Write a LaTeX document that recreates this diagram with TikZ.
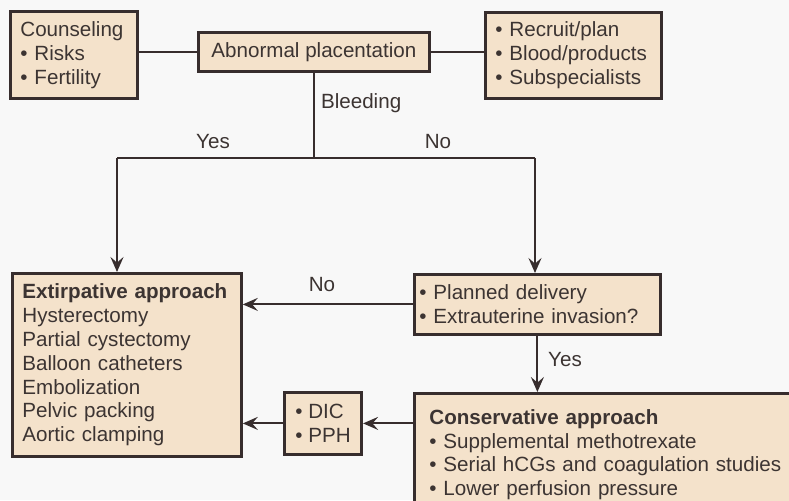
\documentclass[tikz,border=0pt]{standalone}
\usepackage{fontspec}
\setmainfont{Liberation Sans}
\usetikzlibrary{arrows.meta}
\definecolor{chartback}{RGB}{248,248,248}
\definecolor{boxfill}{RGB}{244,226,203}
\definecolor{boxline}{RGB}{55,45,45}
\definecolor{chartink}{RGB}{60,52,50}
\hyphenpenalty=10000
\exhyphenpenalty=10000

\tikzset{
  chartbox/.style={draw=boxline,fill=boxfill,line width=1.4pt,align=left,
    text=chartink,font=\fontsize{10.3}{11.9}\selectfont,anchor=north west},
  chartline/.style={draw=boxline,line width=1pt},
  chartarrow/.style={chartline,-{Stealth[length=7.5pt,width=6.5pt,inset=2.8pt]}},
  chartlabel/.style={text=chartink,font=\fontsize{10.3}{12}\selectfont}
}

\begin{document}
\begin{tikzpicture}[x=0.5pt,y=-0.5pt]
\clip (0,0) rectangle (789,500);
\fill [chartback] (0,0) rectangle (789,500);

\node [chartbox,inner xsep=5pt,text width=53.5pt,minimum height=43.5pt] (couns) at (9,10)
{Counseling\\
• Risks\\
• Fertility};
\node [chartbox,align=center,inner xsep=0pt,minimum width=115.5pt,minimum height=19.5pt] (abn) at (197,31)
{Abnormal placentation};
\node [chartbox,inner xsep=5pt,text width=78pt,minimum height=43pt] (recr) at (484,11)
{• Recruit/plan\\
• Blood/products\\
• Subspecialists};
\node [chartbox,inner xsep=5pt,text width=104.5pt,minimum height=91.5pt] (extirp) at (11,272)
{\textbf{Extirpative approach}\\
Hysterectomy\\
Partial cystectomy\\
Balloon catheters\\
Embolization\\
Pelvic packing\\
Aortic clamping};
\node [chartbox,inner xsep=2.5pt,text width=118pt,minimum height=30pt] (plan) at (413,273)
{• Planned delivery\\
• Extrauterine invasion?};
\node [chartbox,inner xsep=5.5pt,minimum width=38.5pt,minimum height=31pt] (dic) at (283,391)
{• DIC\\
• PPH};
\node [chartbox,inner xsep=7.5pt,inner ysep=8pt,text width=178.5pt] (conserv) at (413,392)
{\textbf{Conservative approach}\\
• Supplemental methotrexate\\
• Serial hCGs and coagulation studies\\
• Lower perfusion pressure};

\coordinate (yesend) at (117,158);
\coordinate (noend) at (535,158);

\draw [chartline] (abn.west) -- (abn.west -| couns.east);
\draw [chartline] (abn.east) -- (abn.east -| recr.west);
\draw [chartline] (abn.south) -- (abn.south |- yesend);
\draw [chartline] (yesend) -- (noend);
\draw [chartarrow] (yesend) -- (yesend |- extirp.north);
\draw [chartarrow] (noend) -- (noend |- plan.north);
\draw [chartarrow] (plan.west) -- (plan.west -| extirp.east);
\draw [chartarrow] (plan.south) -- (plan.south |- conserv.north);
\draw [chartarrow] (dic.east -| conserv.west) -- (dic.east);
\draw [chartarrow] (dic.west) -- (dic.west -| extirp.east);

\node [chartlabel,anchor=west] (bleed) at (314,103) {Bleeding};
\node [chartlabel] (yestop) at (213,142) {Yes};
\node [chartlabel] (notop) at (438,142) {No};
\node [chartlabel] (nomid) at (322,285) {No};
\node [chartlabel] (yesmid) at (565,360) {Yes};
\end{tikzpicture}
\end{document}
